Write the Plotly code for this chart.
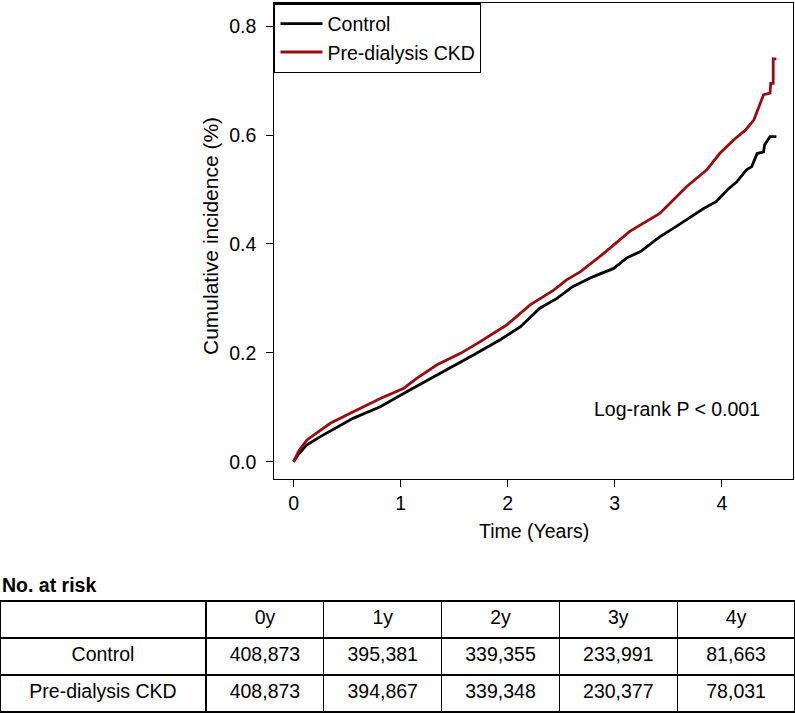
import plotly.graph_objects as go

# ---- Data ----
control_t = [0, 0.05, 0.125, 0.25, 0.56, 0.81, 1.09, 1.37, 1.68, 1.93, 2.12, 2.30, 2.46, 2.61,
             2.80, 2.99, 3.11, 3.24, 3.42, 3.55, 3.83, 3.95, 4.05, 4.14, 4.23, 4.28, 4.33,
             4.39, 4.40, 4.45, 4.51]
control_y = [0, 0.015, 0.031, 0.046, 0.080, 0.101, 0.132, 0.162, 0.196, 0.224, 0.248, 0.282,
             0.300, 0.322, 0.340, 0.355, 0.374, 0.386, 0.413, 0.429, 0.465, 0.478, 0.499,
             0.514, 0.536, 0.542, 0.566, 0.569, 0.582, 0.597, 0.597]

ckd_t = [0, 0.05, 0.125, 0.343, 0.53, 0.81, 1.03, 1.15, 1.34, 1.56, 1.74, 1.99, 2.21, 2.43,
         2.55, 2.68, 2.90, 3.14, 3.42, 3.67, 3.86, 3.98, 4.11, 4.22, 4.30, 4.34, 4.39, 4.45,
         4.457, 4.48, 4.48, 4.51]
ckd_y = [0, 0.02, 0.040, 0.0705, 0.089, 0.116, 0.135, 0.153, 0.178, 0.199, 0.220, 0.251,
         0.288, 0.315, 0.334, 0.349, 0.383, 0.423, 0.456, 0.505, 0.536, 0.566, 0.591, 0.609,
         0.628, 0.649, 0.674, 0.677, 0.695, 0.695, 0.740, 0.740]

series_names = ["Control", "Pre-dialysis CKD"]
series_colors = ["#000000", "#9B0A0E"]

x_ticks = [0, 1, 2, 3, 4]
y_ticks = [0.0, 0.2, 0.4, 0.6, 0.8]

risk_columns = ["0y", "1y", "2y", "3y", "4y"]
risk_control = ["408,873", "395,381", "339,355", "233,991", "81,663"]
risk_ckd = ["408,873", "394,867", "339,348", "230,377", "78,031"]

W, H = 795, 713
FONT = "Liberation Sans, Arial, Helvetica, sans-serif"
FS = 19.5

fig = go.Figure()
for name, col, tx, ty in [(series_names[0], series_colors[0], control_t, control_y),
                          (series_names[1], series_colors[1], ckd_t, ckd_y)]:
    fig.add_trace(go.Scatter(x=tx, y=ty, mode="lines", name=name,
                             line=dict(color=col, width=2.8)))

# Risk table
fig.add_trace(go.Table(
    domain=dict(x=[0, 1], y=[0, (H - 601) / H]),
    columnwidth=[205.7] + [117.6] * 5,
    header=dict(values=[""] + risk_columns, height=37,
                line=dict(color="black", width=1.3), fill=dict(color="white"),
                font=dict(family=FONT, size=FS, color="black"), align="center"),
    cells=dict(values=[series_names] + [[a, b] for a, b in zip(risk_control, risk_ckd)],
               height=37, line=dict(color="black", width=1.3), fill=dict(color="white"),
               font=dict(family=FONT, size=FS, color="black"), align="center"),
))

x_dom = [274.3 / W, 793.0 / W]
y_dom = [(H - 478.5) / H, (H - 3.3) / H]

fig.update_layout(
    width=W, height=H,
    margin=dict(l=0, r=0, t=0, b=0, autoexpand=False),
    paper_bgcolor="white", plot_bgcolor="white",
    font=dict(family=FONT, size=FS, color="black"),
    showlegend=True,
    legend=dict(x=x_dom[0], y=y_dom[1], xanchor="left", yanchor="top",
                bordercolor="black", borderwidth=1.2, bgcolor="white",
                itemwidth=42,
                font=dict(family=FONT, size=FS, color="black")),
    xaxis=dict(domain=x_dom, range=[-0.18, 4.665], tickvals=x_ticks,
               ticktext=[str(v) for v in x_ticks],
               showline=True, linecolor="black", linewidth=1.3, mirror=True,
               ticks="outside", ticklen=7, tickwidth=1.3, tickcolor="black",
               showgrid=False, zeroline=False, ticklabelstandoff=0),
    yaxis=dict(domain=y_dom, range=[-0.0309, 0.842], tickvals=y_ticks,
               ticktext=[f"{v:.1f}" for v in y_ticks],
               showline=True, linecolor="black", linewidth=1.3, mirror=True,
               ticks="outside", ticklen=7, tickwidth=1.3, tickcolor="black",
               showgrid=False, zeroline=False, ticklabelstandoff=6),
    annotations=[
        dict(text="Time (Years)", xref="paper", yref="paper", x=534 / W, y=(H - 531) / H,
             showarrow=False, xanchor="center", yanchor="middle",
             font=dict(family=FONT, size=FS)),
        dict(text="Cumulative incidence (%)", xref="paper", yref="paper", x=210 / W,
             y=(H - 236) / H, showarrow=False, textangle=-90, xanchor="center",
             yanchor="middle", font=dict(family=FONT, size=21)),
        dict(text="Log-rank P < 0.001", xref="x", yref="y", x=3.578, y=0.0968,
             showarrow=False, xanchor="center", yanchor="middle",
             font=dict(family=FONT, size=FS)),
        dict(text="<b>No. at risk</b>", xref="paper", yref="paper", x=0, y=(H - 585) / H,
             showarrow=False, xanchor="left", yanchor="middle",
             font=dict(family=FONT, size=FS)),
    ],
)

fig.write_html("out.html",
               config={"displayModeBar": False},
               post_script="document.body.style.margin='0';document.body.style.padding='0';")
